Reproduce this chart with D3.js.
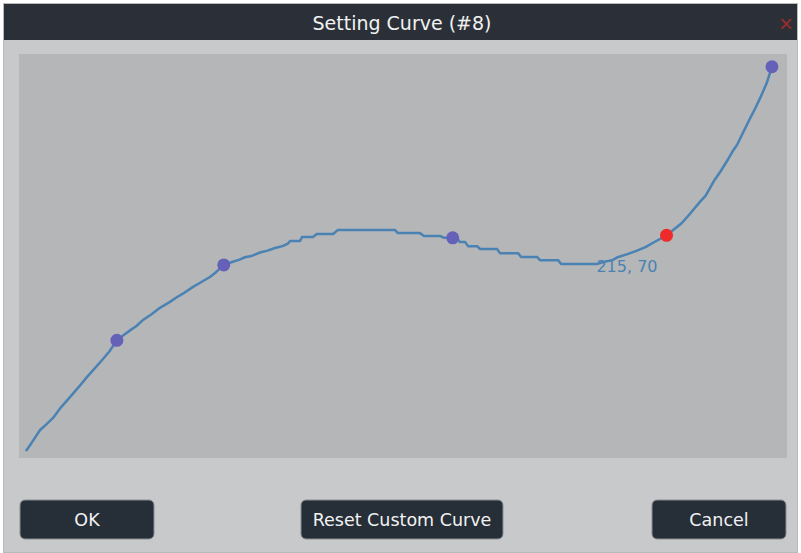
<!DOCTYPE html>
<html>
<head>
<meta charset="utf-8">
<script src="https://cdn.jsdelivr.net/npm/d3@7"></script>
<style>
	body { margin: 0; background: #ffffff; }
	svg { display: block; }
</style>
</head>
<body>
<div id="dialog"></div>
<script>

// curve samples (input 0-255, output 0-127)
var curveX = [2.3, 4, 7, 9, 11.3, 14, 17, 20, 22.6, 25, 27.6, 30, 32.5,
	35, 37, 39, 41.2, 44, 46.8, 50, 52.5, 55, 57.8, 60, 63.4, 65.5, 68,
	70.7, 73, 75, 77.5, 80, 82.5, 85, 87.5, 89.3, 90, 93.3, 94, 97.6, 98.9, 104.3, 105.9,
	124.8, 125.8, 133.1, 134.5, 139.8, 141.1, 144,
	145.4, 146.4, 148.1, 149.1, 152.1, 153.1, 158.7, 159.7, 165.7, 166.7, 172, 173, 179, 180, 191.9,
	194, 197, 199, 202, 205, 208, 211, 215,
	217, 220, 223, 226.1, 228, 229.5, 231, 232.8, 235.5, 237, 238.4, 240.5, 242.8, 244.5, 246.1, 247.3, 248.4, 250];
var curveY = [2.2, 4.5, 8.8, 10.5, 12.6, 16, 19.2, 22.5, 25.5, 28, 30.8, 33.5, 37,
	38.8, 40.2, 41.5, 43.4, 45.2, 47.2, 49, 50.6, 52, 53.8, 55, 56.9, 58.5, 60.7,
	61.6, 62.3, 63.1, 63.6, 64.6, 65.2, 66, 66.6, 67.4, 68.2, 68.2, 69.5, 69.5, 70.4, 70.4, 71.7,
	71.7, 70.7, 70.7, 69.8, 69.8, 69.2, 69.2,
	69.2, 67.9, 67.9, 66.6, 66.6, 65.7, 65.7, 64.4, 64.4, 63.2, 63.2, 62.2, 62.2, 61, 61,
	61.6, 62.2, 63.2, 64.1, 65.1, 66.3, 67.9, 70,
	71.5, 73.8, 77, 80.5, 82.5, 85, 87.5, 89.9, 94, 96.5, 98.4, 102.5, 106.9, 110, 113.2, 115.8, 118.2, 123];

// control points
var pointX = [32.5, 68, 144, 215, 250];
var pointY = [37, 60.7, 69.2, 70, 123];
var selectedIndex = 3;

var titleText = "Setting Curve (#8)";
var buttonLabels = ["OK", "Reset Custom Curve", "Cancel"];

var width = 801,
	height = 553;

var plot = { left: 19, top: 54, right: 787, bottom: 458 };

var svg = d3.select("#dialog")
	.append("svg")
	.attr("width", width)
	.attr("height", height)
	.style("font-family", "'DejaVu Sans', Verdana, sans-serif");

// dialog body
svg.append("rect")
	.attr("x", 3.5)
	.attr("y", 3.5)
	.attr("width", 794)
	.attr("height", 549)
	.attr("fill", "#c8c9cb")
	.attr("stroke", "#b8b9bb");

// title bar
svg.append("rect")
	.attr("x", 4)
	.attr("y", 4)
	.attr("width", 793)
	.attr("height", 36)
	.attr("fill", "#2b3038");

svg.append("text")
	.attr("x", 402)
	.attr("y", 30)
	.attr("text-anchor", "middle")
	.attr("fill", "#f2f2f2")
	.style("font-size", "19px")
	.text(titleText);

svg.append("text")
	.attr("x", 786)
	.attr("y", 32)
	.attr("text-anchor", "middle")
	.attr("fill", "#9a2b2e")
	.style("font-size", "24px")
	.style("font-family", "'Liberation Sans', sans-serif")
	.text("\u00d7");

// plot background
svg.append("rect")
	.attr("x", plot.left)
	.attr("y", plot.top)
	.attr("width", plot.right - plot.left)
	.attr("height", plot.bottom - plot.top)
	.attr("fill", "#b5b6b8");

var x = d3.scaleLinear()
	.domain([0, 255])
	.range([plot.left, plot.right]);

var y = d3.scaleLinear()
	.domain([0, 127])
	.range([plot.bottom, plot.top]);

var curveData = curveX.map(function (d, i) {
	return [d, curveY[i]];
});

svg.append("path")
	.datum(curveData)
	.attr("fill", "none")
	.attr("stroke", "#4a82b3")
	.attr("stroke-width", 2.5)
	.attr("stroke-linejoin", "round")
	.attr("d", d3.line()
		.x(function (d) {
			return x(d[0]);
		})
		.y(function (d) {
			return y(d[1]);
		})
	);

svg.selectAll("circle.pt")
	.data(pointX)
	.enter()
	.append("circle")
	.attr("class", "pt")
	.attr("cx", function (d) {
		return x(d);
	})
	.attr("cy", function (d, i) {
		return y(pointY[i]);
	})
	.attr("r", 6.5)
	.attr("fill", function (d, i) {
		return i === selectedIndex ? "#ef2a2a" : "#6661b8";
	});

// readout of the selected point
svg.append("text")
	.attr("x", x(pointX[selectedIndex]) - 9)
	.attr("y", y(pointY[selectedIndex]) + 37)
	.attr("text-anchor", "end")
	.attr("fill", "#4a82b3")
	.style("font-size", "16px")
	.text(pointX[selectedIndex] + ", " + pointY[selectedIndex]);

// buttons
var buttons = [
	{ x: 20, w: 134 },
	{ x: 301, w: 202 },
	{ x: 652, w: 134 }
];

var btn = svg.selectAll("g.btn")
	.data(buttonLabels)
	.enter()
	.append("g")
	.attr("class", "btn")
	.attr("transform", function (d, i) {
		return "translate(" + buttons[i].x + ",500)";
	});

btn.append("rect")
	.attr("width", function (d, i) {
		return buttons[i].w;
	})
	.attr("height", 39)
	.attr("rx", 5)
	.attr("fill", "#262e38")
	.attr("stroke", "#8a8d91")
	.attr("stroke-width", 1);

btn.append("text")
	.attr("x", function (d, i) {
		return buttons[i].w / 2;
	})
	.attr("y", 26)
	.attr("text-anchor", "middle")
	.attr("fill", "#f2f2f2")
	.style("font-size", "17.5px")
	.text(function (d) {
		return d;
	});

</script>
</body>
</html>
